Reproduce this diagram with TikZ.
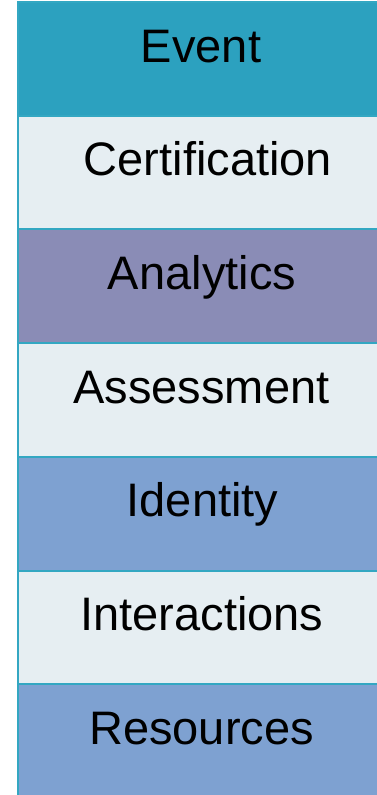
\documentclass[tikz,border=0pt]{standalone}
\usepackage{fontspec}
\setmainfont{Liberation Sans}
\definecolor{evt}{HTML}{2CA1BF}
\definecolor{lite}{HTML}{E6EEF2}
\definecolor{purp}{HTML}{8A8CB6}
\definecolor{blu}{HTML}{7EA1D1}
\definecolor{edge}{HTML}{33A7C2}
\tikzset{
  layer/.style={draw=edge, line width=2pt},
  lbl/.style={anchor=base, font=\fontsize{47}{50}\selectfont, text=black, inner sep=0pt}
}
\begin{document}
\begin{tikzpicture}[x=1pt,y=-1pt]
\useasboundingbox (0,0) rectangle (377,795);
\fill[white] (0,0) rectangle (377,795);
\def\names{Event/evt,Certification/lite,Analytics/purp,Assessment/lite,Identity/blu,Interactions/lite,Resources/blu}
\foreach \t/\c [count=\i from 0] in \names {
  \pgfmathsetmacro{\top}{2+113.7*\i}
  \filldraw[layer, fill=\c] (18,\top) rectangle (392,\top+113.7);
}
\node[lbl] (event) at (201,62) {Event};
\node[lbl] (cert) at (208,175.7) {Certification};
\node[lbl] (analytics) at (202,289.4) {Analytics};
\node[lbl] (assess) at (201.5,403.1) {Assessment};
\node[lbl] (identity) at (202.5,516.8) {Identity};
\node[lbl] (inter) at (202,630.5) {Interactions};
\node[lbl] (res) at (201.5,744.2) {Resources};
\end{tikzpicture}
\end{document}
